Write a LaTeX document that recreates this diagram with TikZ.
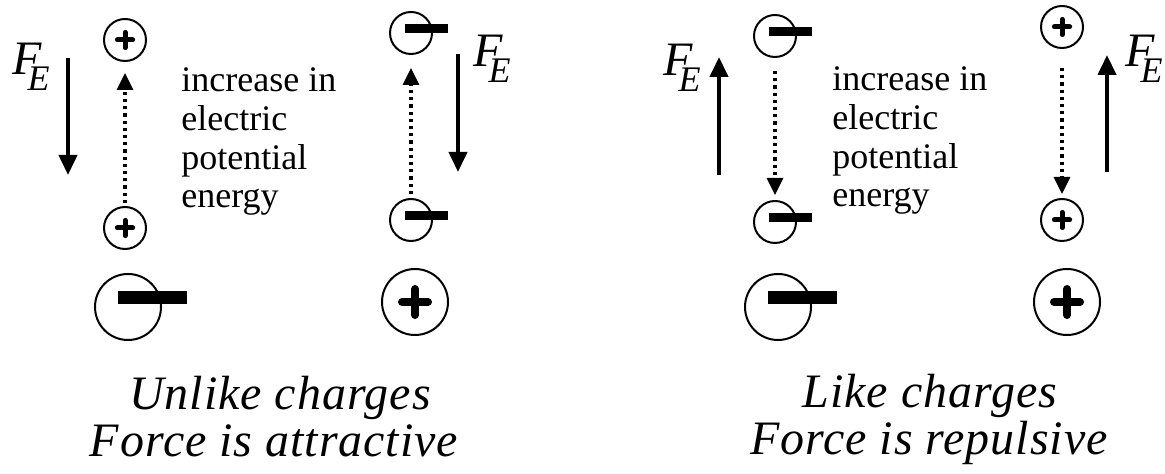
\documentclass[tikz,border=0pt]{standalone}
\usepackage{fontspec}
\setmainfont{Liberation Serif}
\usetikzlibrary{arrows.meta}
\newcommand{\myFE}{F\kern-7pt\raisebox{-8pt}{\fontsize{18}{18}\selectfont E}}
\begin{document}
\begin{tikzpicture}[x=0.5pt,y=-0.5pt,
  chg/.style={circle,draw,line width=1pt,inner sep=0pt,minimum size=21pt},
  bigchg/.style={chg,minimum size=33pt},
  plusbar/.style={line width=2.5pt,line cap=round},
  bigplusbar/.style={line width=4pt,line cap=round},
  force/.style={line width=2pt,-{Triangle[width=9pt,length=10pt]}},
  pe/.style={line width=1.6pt,dash pattern=on 1.6pt off 2pt,-{Triangle[width=8pt,length=8.5pt]}},
  lbl/.style={font=\fontsize{18}{20}\selectfont,anchor=base west,inner sep=0pt},
  capt/.style={font=\fontsize{24}{26}\selectfont\itshape\addfontfeatures{LetterSpace=2},anchor=base,inner sep=0pt},
  fe/.style={font=\fontsize{24}{26}\selectfont\itshape,anchor=base west,inner sep=0pt}
]
\useasboundingbox (0,0) rectangle (1165,474);

% ---------- left panel: unlike charges ----------
\node[chg] (p1) at (125,40) {};
\node[chg] (p2) at (125,228) {};
\node[chg] (m1) at (411,33) {};
\node[chg] (m2) at (411,220) {};
\node[bigchg] (bm1) at (128,307) {};
\node[bigchg] (bp1) at (415,302) {};

\foreach \q in {p1,p2}{
  \draw[plusbar] ([xshift=-3.8pt]\q.center) -- ([xshift=3.8pt]\q.center)
                 ([yshift=-3.8pt]\q.center) -- ([yshift=3.8pt]\q.center);}
\foreach \q in {m1,m2}{
  \fill ([xshift=-3pt]\q.center) rectangle ([xshift=18.5pt,yshift=4.5pt]\q.center);}
\fill ([xshift=-5pt,yshift=1.5pt]bm1.center) rectangle ([xshift=29.5pt,yshift=8pt]bm1.center);
\draw[bigplusbar] ([xshift=-6.5pt]bp1.center) -- ([xshift=6.5pt]bp1.center)
                  ([yshift=-6.5pt]bp1.center) -- ([yshift=6.5pt]bp1.center);

\draw[pe,shorten <=1.5pt,shorten >=5.5pt] (p2) -- (p1);
\draw[pe,shorten <=2pt,shorten >=6.5pt] (m2) -- (m1);

\coordinate (f1a) at (68,58);   \coordinate (f1b) at (68,175);
\coordinate (f2a) at (458,54);  \coordinate (f2b) at (458,172);
\draw[force] (f1a) -- (f1b);
\draw[force] (f2a) -- (f2b);

\node[fe] (FE1) at (12,75) {\myFE};
\node[fe] (FE2) at (473,67) {\myFE};

\node[lbl] (t1) at (181,92) {increase in};
\node[lbl] (t2) at (181,131) {electric};
\node[lbl] (t3) at (181,170) {potential};
\node[lbl] (t4) at (181,208) {energy};

\node[capt] (c1) at (280,410) {Unlike charges};
\node[capt] (c2) at (274,457) {Force is attractive};

% ---------- right panel: like charges ----------
\node[chg] (m3) at (775,36) {};
\node[chg] (m4) at (775,222) {};
\node[chg] (p3) at (1062,27) {};
\node[chg] (p4) at (1062,220) {};
\node[bigchg] (bm2) at (778,307) {};
\node[bigchg] (bp2) at (1067,302) {};

\foreach \q in {p3,p4}{
  \draw[plusbar] ([xshift=-3.8pt]\q.center) -- ([xshift=3.8pt]\q.center)
                 ([yshift=-3.8pt]\q.center) -- ([yshift=3.8pt]\q.center);}
\foreach \q in {m3,m4}{
  \fill ([xshift=-3pt]\q.center) rectangle ([xshift=18.5pt,yshift=4.5pt]\q.center);}
\fill ([xshift=-5pt,yshift=1.5pt]bm2.center) rectangle ([xshift=29.5pt,yshift=8pt]bm2.center);
\draw[bigplusbar] ([xshift=-6.5pt]bp2.center) -- ([xshift=6.5pt]bp2.center)
                  ([yshift=-6.5pt]bp2.center) -- ([yshift=6.5pt]bp2.center);

\draw[pe,shorten <=6.5pt,shorten >=2.5pt] (m3) -- (m4);
\draw[pe,shorten <=9.5pt,shorten >=2pt] (p3) -- (p4);

\coordinate (f3a) at (719,175);  \coordinate (f3b) at (719,57);
\coordinate (f4a) at (1107,172); \coordinate (f4b) at (1107,55);
\draw[force] (f3a) -- (f3b);
\draw[force] (f4a) -- (f4b);

\node[fe] (FE3) at (663,76) {\myFE};
\node[fe] (FE4) at (1125,67) {\myFE};

\node[lbl] (t5) at (832,91) {increase in};
\node[lbl] (t6) at (832,130) {electric};
\node[lbl] (t7) at (832,169) {potential};
\node[lbl] (t8) at (832,207) {energy};

\node[capt] (c3) at (930,408) {Like charges};
\node[capt] (c4) at (929,455) {Force is repulsive};
\end{tikzpicture}
\end{document}
